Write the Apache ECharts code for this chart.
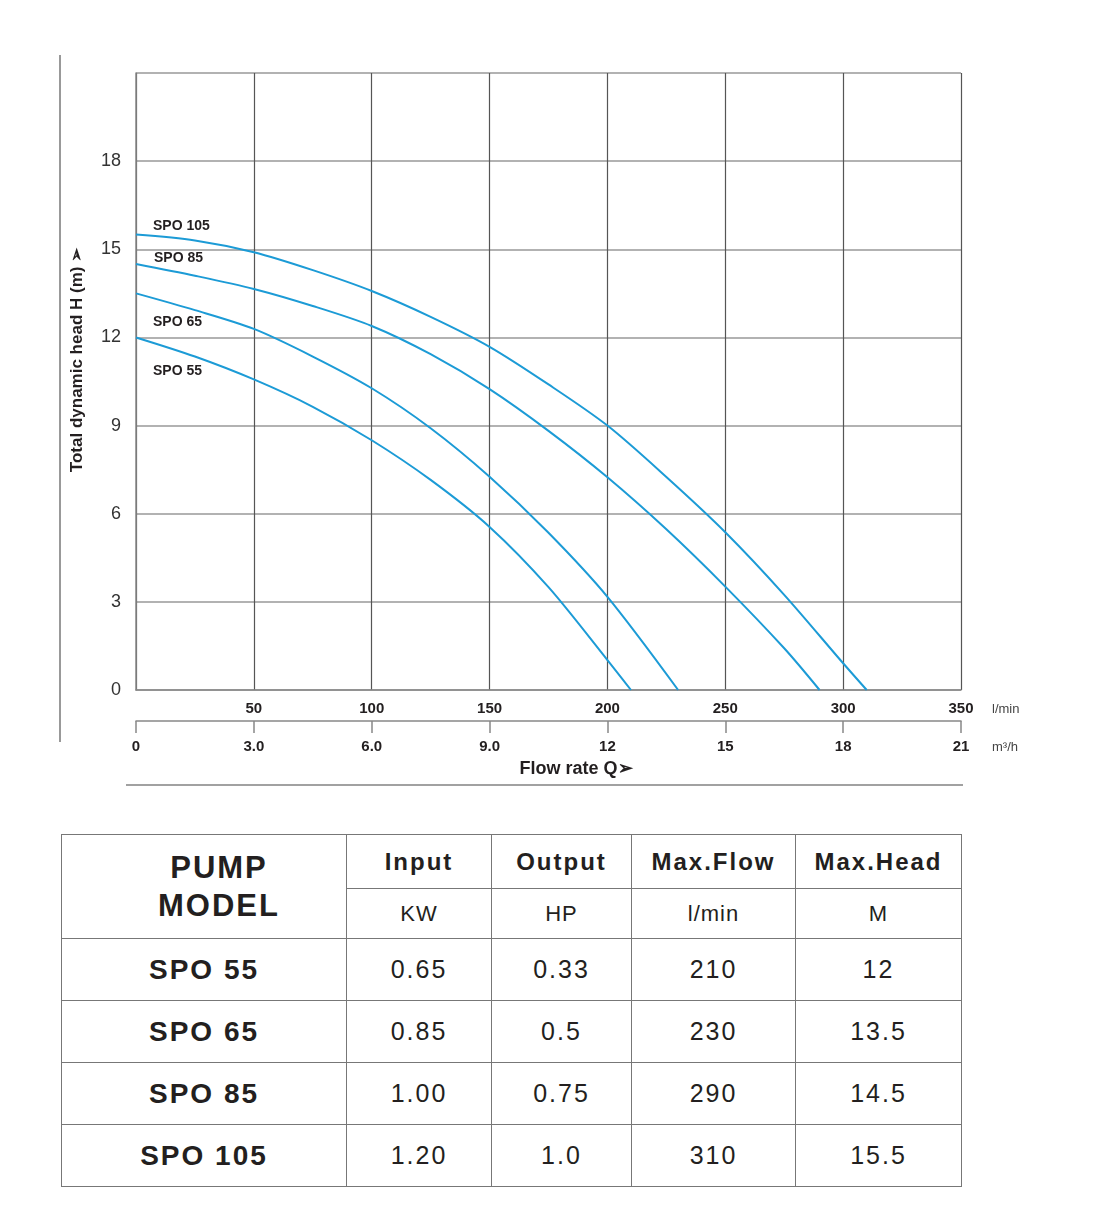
<!DOCTYPE html>
<html>
<head>
<meta charset="utf-8">
<script src="https://cdn.jsdelivr.net/npm/echarts@6/dist/echarts.min.js"></script>
<style>
  html, body { margin:0; padding:0; background:#fff; }
  body { width:1118px; height:1212px; position:relative; font-family:"Liberation Sans", Arial, sans-serif; }
  #chart { position:absolute; left:0; top:0; width:1118px; height:800px; }
  #spec { position:absolute; left:61px; top:834px; border-collapse:collapse; color:#231f20; }
  #spec td { border:1.5px solid #777; text-align:center; padding:0; }
  #spec .hd { font-weight:bold; font-size:24px; letter-spacing:2px; height:53px; }
  #spec .unit { font-size:22px; letter-spacing:1px; height:49px; }
  #spec .model { font-weight:bold; font-size:31px; letter-spacing:2px; line-height:38px; padding-left:30px; }
  #spec .name { font-weight:bold; font-size:28px; letter-spacing:2px; }
  #spec .val { font-size:25px; letter-spacing:2px; height:61px; }
</style>
</head>
<body>
<div id="chart"></div>
<table id="spec">
  <tr>
    <td rowspan="2" class="model" style="width:254px">PUMP<br>MODEL</td>
    <td class="hd" style="width:144px">Input</td>
    <td class="hd" style="width:139px">Output</td>
    <td class="hd" style="width:163px">Max.Flow</td>
    <td class="hd" style="width:165px">Max.Head</td>
  </tr>
  <tr id="unitRow"></tr>
</table>
<script>
// pump curves: [flow l/min, head m]
var spo105 = [[0,15.5],[25,15.3],[50,14.9],[75,14.29],[100,13.58],[125,12.7],[150,11.68],[175,10.4],[200,9.0],[225,7.25],[250,5.37],[275,3.24],[300,0.91],[310,0]];
var spo85  = [[0,14.5],[25,14.1],[50,13.65],[75,13.07],[100,12.39],[125,11.43],[150,10.24],[175,8.82],[200,7.24],[225,5.47],[250,3.52],[275,1.42],[290,0]];
var spo65  = [[0,13.5],[25,12.93],[50,12.29],[75,11.35],[100,10.27],[125,8.91],[150,7.26],[175,5.35],[200,3.17],[230,0]];
var spo55  = [[0,12],[25,11.35],[50,10.57],[75,9.64],[100,8.5],[125,7.15],[150,5.55],[175,3.5],[200,1.02],[210,0]];

var lminLabels = ['', '50', '100', '150', '200', '250', '300', '350'];
var m3hLabels  = ['0', '3.0', '6.0', '9.0', '12', '15', '18', '21'];

// table data
var models   = ['SPO 55', 'SPO 65', 'SPO 85', 'SPO 105'];
var inputKW  = ['0.65', '0.85', '1.00', '1.20'];
var outputHP = ['0.33', '0.5', '0.75', '1.0'];
var maxFlow  = ['210', '230', '290', '310'];
var maxHead  = ['12', '13.5', '14.5', '15.5'];
var units    = ['KW', 'HP', 'l/min', 'M'];

var FONT = '"Liberation Sans", Arial, sans-serif';
var BLUE = '#1c9bd6';

// build table
var ur = document.getElementById('unitRow');
units.forEach(function(u){
  var td = document.createElement('td'); td.className = 'unit'; td.textContent = u; ur.appendChild(td);
});
var tb = document.getElementById('spec');
for (var i = 0; i < models.length; i++) {
  var tr = document.createElement('tr');
  var cells = [models[i], inputKW[i], outputHP[i], maxFlow[i], maxHead[i]];
  cells.forEach(function(c, j){
    var td = document.createElement('td');
    td.className = j === 0 ? 'name' : 'val';
    td.textContent = c;
    tr.appendChild(td);
  });
  tb.appendChild(tr);
}

function curve(name, data) {
  return {
    name: name, type: 'line', data: data, smooth: 0.3, symbol: 'none',
    lineStyle: { color: BLUE, width: 2 }, silent: true
  };
}

var myChart = echarts.init(document.getElementById('chart'));
var option = {
  animation: false,
  grid: { left: 136, top: 73, width: 825, height: 617 },
  xAxis: [
    {
      type: 'value', min: 0, max: 350, interval: 50,
      axisLine: { show: true, lineStyle: { color: '#888', width: 1.5 } },
      axisTick: { show: false },
      axisLabel: { formatter: function(v, i){ return lminLabels[i]; }, margin: 11,
                   fontFamily: FONT, fontWeight: 'bold', fontSize: 15, color: '#231f20' },
      splitLine: { show: true, lineStyle: { color: '#555', width: 1.2 } }
    },
    {
      type: 'value', min: 0, max: 350, interval: 50, position: 'bottom', offset: 31,
      axisLine: { show: true, lineStyle: { color: '#888', width: 1.5 } },
      axisTick: { show: true, length: 12, lineStyle: { color: '#888', width: 1.5 } },
      axisLabel: { formatter: function(v, i){ return m3hLabels[i]; }, margin: 18,
                   fontFamily: FONT, fontWeight: 'bold', fontSize: 15, color: '#231f20' },
      splitLine: { show: false }
    }
  ],
  yAxis: {
    type: 'value', min: 0, max: 21, interval: 3,
    axisLine: { show: true, lineStyle: { color: '#888', width: 1.5 } },
    axisTick: { show: false },
    axisLabel: { formatter: function(v){ return v === 21 ? '' : v; }, margin: 15,
                 fontFamily: FONT, fontSize: 18, color: '#333', padding: [0, 0, 7, 0] },
    splitLine: { show: true, lineStyle: { color: '#999', width: 1.5 } }
  },
  series: [
    curve('SPO 105', spo105),
    curve('SPO 85', spo85),
    curve('SPO 65', spo65),
    curve('SPO 55', spo55)
  ],
  graphic: [
    { type: 'line', shape: { x1: 60, y1: 55, x2: 60, y2: 742 }, style: { stroke: '#555', lineWidth: 1.2 } },
    { type: 'line', shape: { x1: 126, y1: 785, x2: 963, y2: 785 }, style: { stroke: '#444', lineWidth: 1.2 } },
    { type: 'text', x: 77, y: 360, rotation: Math.PI / 2,
      style: { text: 'Total dynamic head H (m) ➢', font: 'bold 17px ' + FONT, fill: '#231f20',
               textAlign: 'center', textVerticalAlign: 'middle' } },
    { type: 'text', x: 576, y: 769,
      style: { text: 'Flow rate Q➢', font: 'bold 18px ' + FONT, fill: '#231f20',
               textAlign: 'center', textVerticalAlign: 'middle' } },
    { type: 'text', x: 992, y: 709,
      style: { text: 'l/min', font: '13px ' + FONT, fill: '#444', textVerticalAlign: 'middle' } },
    { type: 'text', x: 992, y: 747,
      style: { text: 'm³/h', font: '13px ' + FONT, fill: '#444', textVerticalAlign: 'middle' } },
    { type: 'text', x: 153, y: 226,
      style: { text: 'SPO 105', font: 'bold 14px ' + FONT, fill: '#231f20', textVerticalAlign: 'middle' } },
    { type: 'text', x: 154, y: 258,
      style: { text: 'SPO 85', font: 'bold 14px ' + FONT, fill: '#231f20', textVerticalAlign: 'middle' } },
    { type: 'text', x: 153, y: 322,
      style: { text: 'SPO 65', font: 'bold 14px ' + FONT, fill: '#231f20', textVerticalAlign: 'middle' } },
    { type: 'text', x: 153, y: 371,
      style: { text: 'SPO 55', font: 'bold 14px ' + FONT, fill: '#231f20', textVerticalAlign: 'middle' } }
  ]
};
myChart.setOption(option);
</script>
</body>
</html>
